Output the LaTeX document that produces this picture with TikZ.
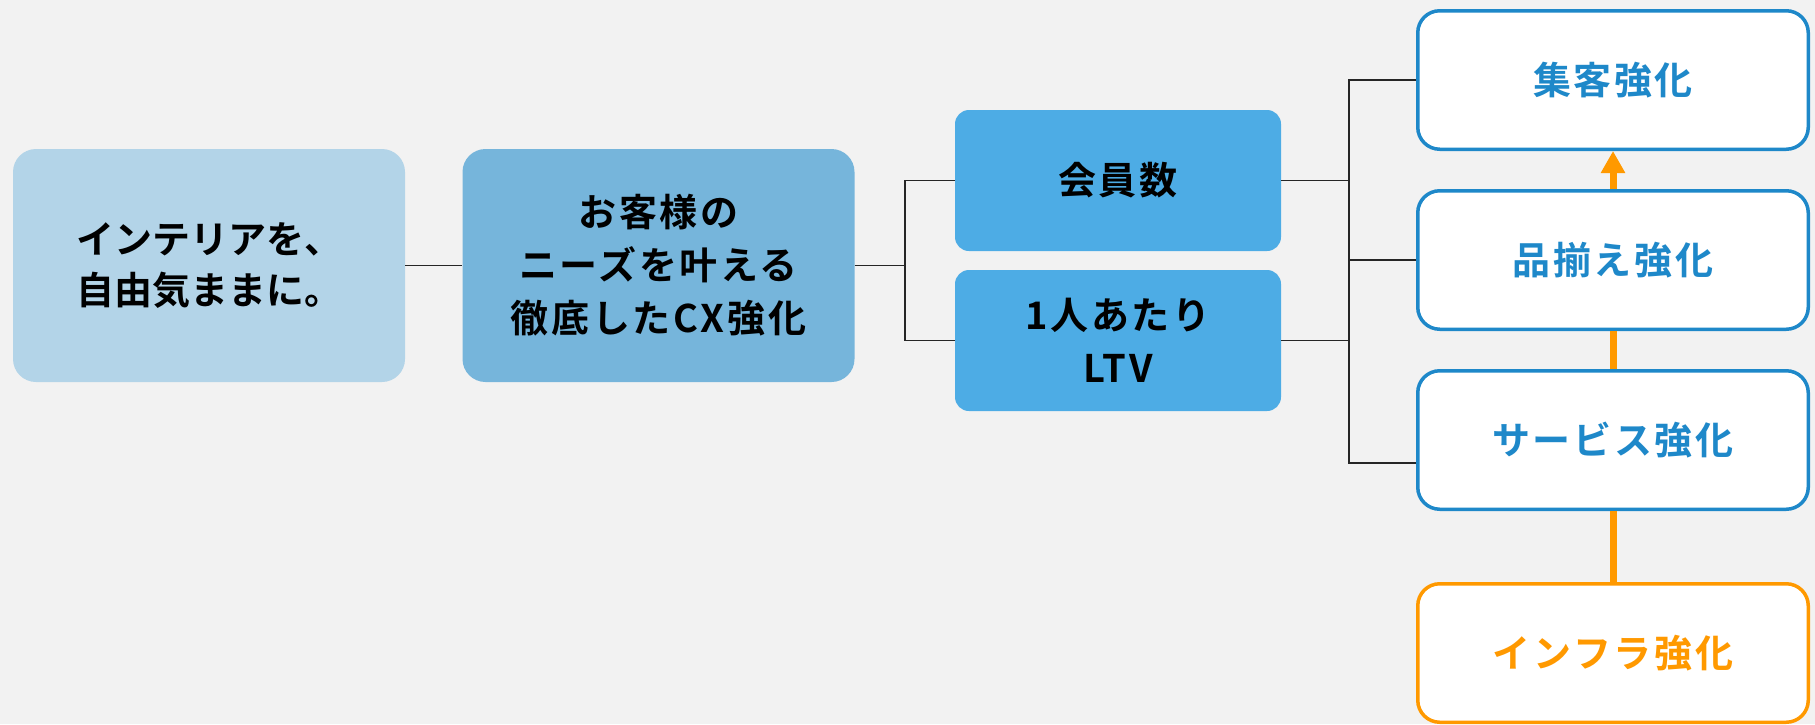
\documentclass[tikz,border=0pt]{standalone}
\usepackage{fontspec}
\usetikzlibrary{arrows.meta}
\newfontfamily\jp{Noto Sans CJK JP}[UprightFont=* Bold, LetterSpace=7]
\newfontfamily\jpn{Noto Sans CJK JP}[UprightFont=* Bold]
\newcommand\jpL{\jp\fontsize{38}{53}\selectfont}
\newcommand\jpN{\jpn\fontsize{38}{51}\selectfont}
\definecolor{bgc}{HTML}{F2F2F2}
\definecolor{lightb}{HTML}{B3D4E8}
\definecolor{midb}{HTML}{76B5DB}
\definecolor{darkb}{HTML}{4DACE5}
\definecolor{edgeb}{HTML}{1E88C9}
\definecolor{orng}{HTML}{FF9900}
\begin{document}
\begin{tikzpicture}[x=1pt,y=-1pt,
  bigbox/.style={rounded corners=23pt, inner sep=0pt, align=center, font=\jpL, text=black,
    minimum width=392pt, minimum height=233pt},
  smallbox/.style={rounded corners=14pt, inner sep=0pt, align=center, font=\jpL, text=black,
    fill=darkb, minimum width=326pt, minimum height=141pt},
  rbox/.style={rounded corners=22pt, inner sep=0pt, align=center, font=\jpL, fill=white,
    line width=3.5pt, minimum width=390.5pt, minimum height=138.5pt},
  bluebox/.style={rbox, draw=edgeb, text=edgeb},
  orangebox/.style={rbox, draw=orng, text=orng},
  conn/.style={draw=black!85, line width=1.3pt},
  oline/.style={draw=orng, line width=7pt}
]
\useasboundingbox (0,0) rectangle (1815,724);
\fill[bgc] (0,0) rectangle (1815,724);

\node[bigbox, fill=lightb, font=\jpN] (b1) at (209,265.5) {インテリアを、\\自由気ままに。};
\node[bigbox, fill=midb] (b2) at (658.5,265.5) {お客様の\\ニーズを叶える\\徹底したCX強化};
\node[smallbox] (b3) at (1118,180.5) {会員数};
\node[smallbox] (b4) at (1118,340.5) {1人あたり\\LTV};

\node[bluebox] (r1) at (1613,80) {集客強化};
\node[bluebox] (r2) at (1613,260) {品揃え強化};
\node[bluebox] (r3) at (1613,440) {サービス強化};
\node[orangebox] (r4) at (1613,653) {インフラ強化};

\coordinate (j1) at (905,265.5);
\coordinate (j2) at (1349,463);

\draw[conn] (b1.east) -- (b2.west);
\draw[conn] (b2.east) -- (j1);
\draw[conn] (b3.west) -| (j1) |- (b4.west);
\draw[conn] (r1.west) -| (j2) -- (r3.west |- j2);
\draw[conn] (b3.east) -- (b3.east -| j2);
\draw[conn] (b4.east) -- (b4.east -| j2);
\draw[conn] (r2.west) -- (r2.west -| j2);

\draw[oline, -{Triangle[width=23pt,length=22pt]}] (r2.north) -- (r1.south);
\draw[oline] (r3.north) -- (r2.south);
\draw[oline] (r4.north) -- (r3.south);
\end{tikzpicture}
\end{document}
